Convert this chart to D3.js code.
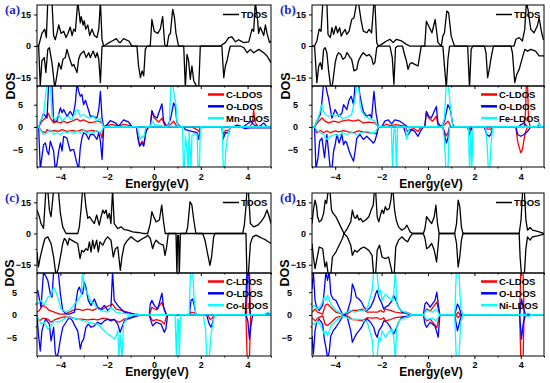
<!DOCTYPE html>
<html><head><meta charset="utf-8">
<script src="https://cdn.jsdelivr.net/npm/d3@7/dist/d3.min.js"></script>
<style>body{margin:0;background:#fff}svg{display:block}</style></head>
<body><svg id="chart" width="550" height="383"></svg>
<script>
// ---------- axes / labels ----------
const energyDomain = [-5, 5];
const energyTicks = [-4, -2, 0, 2, 4];
const energyMinor = [-5, -3, -1, 1, 3, 5];
const tdosDomain = [-19, 19.5];
const tdosTicks = [-15, 0, 15];
const tdosMinor = [-7.5, 7.5];
const ldosDomain = [-9, 9.2];
const ldosTicks = [-5, 0, 5];
const ldosMinor = [-2.5, 2.5];
const panelLabels = ["(a)", "(b)", "(c)", "(d)"];
const metalNames = ["Mn", "Fe", "Co", "Ni"];
const seriesColors = {C: "#ff0000", O: "#0000ff", M: "#00ffff"};

// ---------- panel (a) : Mn ----------
const aTup = [[-5,0],[-4.93,0],[-4.79,6],[-4.67,8],[-4.60,4],[-4.54,21],[-4.43,22],[-4.36,21],[-4.29,5],[-4.22,3],[-4.15,6],[-4.07,10],[-3.97,6],[-3.86,7],[-3.76,4],[-3.68,6],[-3.58,9],[-3.50,5],[-3.43,8],[-3.36,7],[-3.26,21],[-3.19,15],[-3.15,11],[-3.11,14],[-3.03,10],[-2.98,12],[-2.92,8],[-2.83,10],[-2.75,5],[-2.65,8],[-2.55,5],[-2.44,4],[-2.36,8],[-2.29,21],[-2.22,3],[-2.15,0],[-2.01,1],[-1.79,2.4],[-1.61,3.5],[-1.51,2],[-1.44,1.6],[-1.30,3.5],[-1.08,2.4],[-0.94,0],[-0.16,0],[-0.09,12.6],[0.01,7],[0.16,6],[0.27,8],[0.37,14],[0.46,0.5],[0.56,0],[0.63,5],[0.70,6],[0.80,17.4],[0.87,14],[0.94,6],[1.05,0],[2.83,0],[3.05,1.6],[3.19,4],[3.33,4.4],[3.48,2],[3.62,3],[3.83,1.6],[4.05,2],[4.19,8],[4.26,7],[4.33,21],[4.43,12],[4.47,6],[4.54,9],[4.69,5],[4.76,10],[4.83,6],[4.94,1.6],[5,2.5]];
const aTdn = [[-5,0],[-4.93,0],[-4.86,-19],[-4.79,-7],[-4.69,-5.5],[-4.62,-12.6],[-4.54,-1.6],[-4.47,-0.8],[-4.36,-8],[-4.24,-20],[-4.15,-14],[-4.07,-8],[-3.97,-11],[-3.89,-6.3],[-3.79,-5.5],[-3.72,-1.6],[-3.62,-5.5],[-3.50,-9.5],[-3.43,-8.7],[-3.29,-12.6],[-3.22,-6.3],[-3.15,-4],[-3.00,-2.4],[-2.90,-5.5],[-2.79,-3.2],[-2.72,-5.5],[-2.60,-2.4],[-2.50,-5.5],[-2.43,-3.2],[-2.36,-6.3],[-2.29,-17.4],[-2.22,0],[-0.73,0],[-0.66,-9.5],[-0.58,-15],[-0.51,-11.8],[-0.44,-14.2],[-0.37,-1.6],[-0.30,0],[1.27,0],[1.34,-20],[1.41,-4],[1.48,-7],[1.55,-15.8],[1.62,-9.5],[1.70,-16.6],[1.77,-18],[1.84,-20],[1.91,-20],[1.98,0],[2.90,0],[2.98,-15],[3.05,-9.5],[3.12,-7],[3.19,-3.2],[3.26,0],[3.70,0],[3.84,-0.8],[3.98,-3.2],[4.12,-1.6],[4.26,-3.2],[4.48,-1.6],[4.69,-3.2],[4.83,-4.7],[5,-8]];
const aCup = [[-5,0],[-4.93,0],[-4.79,1.3],[-4.64,2],[-4.53,3.1],[-4.43,2],[-4.29,0.9],[-4.15,1.2],[-4.00,0.9],[-3.86,1.3],[-3.72,0.9],[-3.50,1.3],[-3.29,1.8],[-3.15,1.3],[-3.01,1.6],[-2.79,1],[-2.58,1.1],[-2.36,1.3],[-2.22,0.9],[-2.15,0],[-2.01,0.3],[-1.8,0.6],[-1.5,0.2],[-1.3,0.6],[-1.0,0.3],[-0.94,0],[-0.16,0],[-0.09,3.5],[0.01,2],[0.2,1.1],[0.34,2],[0.48,0],[0.70,0.5],[0.84,1.3],[0.98,0],[4.1,0],[4.2,1],[4.26,3.7],[4.33,1],[4.45,0],[5,0]];
const aCdn = [[-5,0],[-4.93,0],[-4.79,-1],[-4.64,-1.3],[-4.57,-0.6],[-4.43,-1],[-4.29,-0.8],[-4.07,-1],[-3.93,-0.6],[-3.72,-1],[-3.50,-0.8],[-3.29,-1],[-3.08,-0.6],[-2.86,-1],[-2.65,-0.8],[-2.44,-1],[-2.29,-1.3],[-2.22,-2.5],[-2.15,0],[-0.75,0],[-0.68,-2.8],[-0.61,-4.3],[-0.51,-3.2],[-0.44,-4],[-0.34,-0.8],[-0.23,0],[1.6,0],[1.84,-0.6],[1.91,-1],[1.98,0],[2.91,0],[2.95,-1.7],[3.05,-0.8],[3.19,-0.8],[3.26,0],[5,0]];
const aOup = [[-5,0],[-4.93,0],[-4.72,3],[-4.57,2],[-4.50,10],[-4.36,10],[-4.29,1.3],[-4.15,1.3],[-4.00,4.3],[-3.93,3.2],[-3.86,3.9],[-3.72,2.4],[-3.58,3.5],[-3.46,2.4],[-3.36,5.4],[-3.29,10],[-3.22,8],[-3.15,6.9],[-3.08,7.3],[-3.01,5],[-2.93,6],[-2.83,4.3],[-2.72,2.4],[-2.58,2.4],[-2.44,2],[-2.36,3.9],[-2.29,8],[-2.22,2],[-2.15,0],[-2.01,0.5],[-1.87,1.4],[-1.65,0.9],[-1.51,0.2],[-1.30,1.6],[-1.08,1.1],[-0.94,0],[-0.16,0],[-0.09,3.7],[0.01,2.4],[0.13,2],[0.34,5.2],[0.41,1.3],[0.56,0],[0.70,1.6],[0.84,5.4],[0.91,4.6],[0.98,0.9],[1.13,0],[3.40,0],[3.55,0.4],[3.8,0],[4.15,1.3],[4.26,0.5],[4.47,0],[4.69,0.9],[4.83,0],[5,0]];
const aOdn = [[-5,0],[-4.93,0],[-4.86,-9.5],[-4.72,-4],[-4.64,-3.6],[-4.57,-5.4],[-4.50,-6.2],[-4.43,-3.2],[-4.29,-5.4],[-4.22,-9.5],[-4.15,-8.4],[-4.07,-5.4],[-4.00,-3.6],[-3.93,-5.4],[-3.86,-2.1],[-3.72,-2.5],[-3.65,-4],[-3.58,-5.4],[-3.50,-5.1],[-3.43,-5.1],[-3.32,-7.7],[-3.22,-9.5],[-3.15,-4.7],[-3.08,-2.5],[-3.01,-1.3],[-2.89,-1.7],[-2.79,-2.8],[-2.72,-1.7],[-2.58,-1.7],[-2.44,-2.8],[-2.36,-1.3],[-2.29,-3.2],[-2.22,-7.3],[-2.15,0],[-0.75,0],[-0.68,-2.5],[-0.61,-4.3],[-0.51,-3.6],[-0.44,-4.3],[-0.34,-1],[-0.23,0],[1.27,0],[1.34,-0.6],[1.62,-1],[1.84,-1.3],[1.91,-2.8],[1.98,0],[2.91,0],[2.95,-2.8],[3.05,-1.3],[3.19,-1.3],[3.26,0],[3.7,0],[3.9,-0.4],[4.1,-0.2],[5,-0.2]];
const aMup = [[-5,0],[-4.93,0],[-4.86,1.3],[-4.72,2.8],[-4.57,10],[-4.43,10],[-4.36,2.4],[-4.22,1.6],[-4.07,2.8],[-3.93,1.3],[-3.79,2],[-3.65,2.4],[-3.50,1.6],[-3.36,3.5],[-3.26,3.9],[-3.15,2.4],[-3.01,2.8],[-2.79,2],[-2.58,2.4],[-2.44,1.3],[-2.29,2],[-2.22,0.9],[-2.15,0],[-0.16,0],[-0.09,1.3],[0.05,0.5],[0.3,0.3],[0.5,0],[0.65,0.5],[0.73,10],[0.80,10],[0.87,7],[0.94,5],[0.98,1],[1.05,0],[5,0]];
const aMdn = [[-5,0],[-4.93,0],[-4.86,-0.6],[-4.72,-1.7],[-4.57,-1.3],[-4.43,-0.6],[-4.29,-1.7],[-4.15,-1.3],[-4.00,-1.7],[-3.86,-1],[-3.72,-1.3],[-3.58,-1],[-3.43,-1.5],[-3.29,-1],[-3.15,-1.3],[-3.01,-0.8],[-2.86,-1.3],[-2.72,-1],[-2.58,-1.3],[-2.44,-0.8],[-2.29,-1.3],[-2.15,0],[-0.72,0],[-0.65,-1.7],[-0.58,-2.8],[-0.51,-2],[-0.44,-2.4],[-0.35,0],[1.22,0],[1.26,-9.5],[1.30,-9.5],[1.34,-2],[1.41,-5.4],[1.46,-9.5],[1.50,-1],[1.58,-9.5],[1.62,-2],[1.70,-1.5],[1.84,-1.6],[1.88,-9.5],[1.94,-9.5],[1.98,0],[2.92,0],[2.96,-9.5],[3.02,-9.5],[3.07,-5.4],[3.12,-3.2],[3.19,-1],[3.26,0],[5,0]];

// ---------- panel (b) : Fe ----------
const bTup = [[-5,0],[-4.89,0],[-4.79,2.4],[-4.69,8],[-4.61,7],[-4.53,21],[-4.43,21],[-4.36,21],[-4.31,5.5],[-4.21,4],[-4.14,8.7],[-4.07,5.5],[-3.97,9.5],[-3.90,6.3],[-3.81,8.7],[-3.74,4.7],[-3.67,6.3],[-3.57,7.9],[-3.50,5.5],[-3.40,7.1],[-3.29,12.6],[-3.19,13.4],[-3.07,21],[-3.00,21],[-2.89,12.6],[-2.79,7.1],[-2.64,6.3],[-2.54,7.9],[-2.43,6.3],[-2.33,21],[-2.29,21],[-2.21,1.6],[-2.14,0],[-2.00,0.8],[-1.79,2.4],[-1.64,3.2],[-1.50,1.6],[-1.36,3.2],[-1.14,2.4],[-0.93,0.8],[-0.79,0],[-0.14,0],[-0.07,11.8],[0.03,9.5],[0.17,6.3],[0.31,12.6],[0.43,1.6],[0.57,0],[0.64,4.7],[0.71,6.3],[0.81,16.6],[0.89,15.8],[1.00,4.7],[1.14,0],[3.71,0],[3.79,3.2],[3.93,4],[4.07,2.4],[4.17,7.9],[4.24,21],[4.31,17.4],[4.43,7.9],[4.57,6.3],[4.71,9.5],[4.79,13.4],[4.90,6.3],[4.97,3.2],[5,3]];
const bTdn = [[-5,0],[-4.89,0],[-4.79,-17.4],[-4.71,-9.5],[-4.64,-7.9],[-4.57,-11.1],[-4.50,-1.6],[-4.43,-0.8],[-4.36,-3.2],[-4.29,-11.1],[-4.21,-18.2],[-4.14,-20],[-4.07,-14.2],[-4.00,-7.9],[-3.93,-4.7],[-3.86,-3.2],[-3.76,-4],[-3.67,-6.3],[-3.57,-5.5],[-3.50,-3.2],[-3.43,-4],[-3.36,-5.5],[-3.29,-6.3],[-3.19,-11.8],[-3.07,-11.1],[-3.00,-7.1],[-2.89,-4.7],[-2.79,-3.2],[-2.64,-4.7],[-2.54,-4],[-2.43,-5.5],[-2.36,-8.7],[-2.29,-7.9],[-2.21,-0.8],[-2.14,0],[-1.64,0],[-1.54,-5.5],[-1.47,-18.2],[-1.40,-0.8],[-1.31,0],[-1.10,0],[-1.03,-3.2],[-0.93,-7.1],[-0.86,-11.1],[-0.79,-8.7],[-0.71,-7.9],[-0.57,-8.7],[-0.43,-9.5],[-0.36,-4.7],[-0.29,0],[0.64,0],[0.71,-9.5],[0.79,-20],[0.86,-6.3],[0.93,0],[1.71,0],[1.79,-20],[1.86,-1.6],[1.93,0],[2.43,0],[2.50,-3.2],[2.57,-15],[2.64,-11.1],[2.71,-6.3],[2.79,-1.6],[2.83,0],[3.57,0],[3.64,-3.2],[3.74,-17.4],[3.83,-13.4],[3.93,-11.1],[4.07,-5.5],[4.17,-1.6],[4.29,-2.4],[4.43,-1.6],[4.64,-2.4],[4.79,-4.7],[4.97,-4.7],[5,-4.7]];
const bCup = [[-5,0],[-4.89,0],[-4.71,1.3],[-4.57,2],[-4.43,1.3],[-4.29,0.9],[-4.07,1.3],[-3.86,1],[-3.71,1.3],[-3.43,1.6],[-3.21,1.3],[-3.00,1.6],[-2.79,0.9],[-2.57,1.1],[-2.29,0.9],[-2.14,0],[-2.0,0],[-1.8,0.6],[-1.6,0.3],[-1.4,0.5],[-1.0,0.2],[-0.86,0],[-0.14,0],[-0.07,3.1],[0.03,2],[0.2,1.3],[0.36,2.4],[0.45,0],[0.71,0.5],[0.86,1.3],[1.0,0],[4.15,0],[4.2,3],[4.24,10],[4.29,10],[4.33,2],[4.4,0],[5,0]];
const bCdn = [[-5,0],[-4.89,0],[-4.79,-1.3],[-4.64,-0.8],[-4.50,-1.3],[-4.36,-0.9],[-4.21,-1.3],[-4.0,-0.9],[-3.86,-1.1],[-3.64,-0.8],[-3.43,-1.1],[-3.21,-1.3],[-3.0,-0.9],[-2.79,-1.1],[-2.57,-1.3],[-2.36,-1.3],[-2.21,-1.6],[-2.14,0],[-0.95,0],[-0.9,-1],[-0.8,-0.6],[-0.6,-0.4],[-0.43,-1],[-0.3,0],[0.64,0],[0.71,-1],[0.79,-2],[0.86,-1.3],[0.93,0],[1.75,0],[1.8,-0.6],[1.9,0],[2.5,0],[2.55,-0.5],[2.7,-0.5],[2.8,0],[3.79,0],[3.86,-3.2],[3.93,-4.6],[4.0,-5.8],[4.07,-5.1],[4.14,-2.8],[4.21,-1],[4.29,0],[5,0]];
const bOup = [[-5,0],[-4.89,0],[-4.79,1.3],[-4.64,2.8],[-4.57,5.7],[-4.50,10],[-4.43,10],[-4.36,8],[-4.29,6.5],[-4.14,2],[-4.00,3.9],[-3.86,2.4],[-3.71,3.1],[-3.64,5],[-3.50,3.9],[-3.40,6.1],[-3.31,6.9],[-3.21,5],[-3.14,10],[-3.00,10],[-2.93,6.9],[-2.79,3.5],[-2.64,2.4],[-2.50,2.8],[-2.43,2],[-2.33,8],[-2.24,3.1],[-2.14,0],[-2.0,0],[-1.86,1.3],[-1.71,1.6],[-1.57,0.7],[-1.43,1.6],[-1.21,1.3],[-1.00,0.5],[-0.86,0],[-0.14,0],[-0.07,3.5],[0.03,2.4],[0.14,2],[0.36,4.6],[0.43,0.9],[0.57,0],[0.71,1.3],[0.86,5],[0.96,3.9],[1.07,0.5],[1.14,0],[3.9,0],[4.0,0.5],[4.14,0.9],[4.29,0],[4.7,0],[4.79,0.9],[4.86,0],[5,0]];
const bOdn = [[-5,0],[-4.89,0],[-4.83,-9.5],[-4.74,-6.9],[-4.67,-3.2],[-4.57,-2.5],[-4.50,-5.4],[-4.46,-6.9],[-4.36,-1.7],[-4.29,-5.4],[-4.21,-9.5],[-4.14,-9.5],[-4.07,-5.4],[-4.00,-4],[-3.93,-1.7],[-3.83,-3.6],[-3.71,-1.7],[-3.64,-4],[-3.57,-3.2],[-3.50,-3.6],[-3.40,-5.4],[-3.31,-6.6],[-3.21,-7.7],[-3.14,-5.4],[-3.07,-2.5],[-2.93,-1.7],[-2.79,-2.8],[-2.64,-2.1],[-2.50,-2.8],[-2.36,-3.6],[-2.29,-3.2],[-2.21,-1.7],[-2.14,0],[-1.05,0],[-0.93,-2.1],[-0.86,-1.7],[-0.71,-0.6],[-0.57,-1],[-0.43,-2.1],[-0.33,-1],[-0.21,0],[0.64,0],[0.71,-1.7],[0.79,-3.6],[0.86,-2.5],[0.93,0],[1.71,0],[1.79,-1.7],[1.86,-0.6],[1.93,0],[2.43,0],[2.53,-1.7],[2.64,-2.1],[2.71,-1.7],[2.79,0],[3.79,0],[3.86,-1.7],[4.0,-2.1],[4.14,-1.7],[4.29,-1],[4.43,0],[5,0]];
const bMup = [[-5,0],[-4.89,0],[-4.71,2.4],[-4.57,5],[-4.50,3.5],[-4.43,2.8],[-4.29,2.4],[-4.14,2.8],[-4.00,2.4],[-3.86,2.8],[-3.71,2],[-3.57,2],[-3.43,2.4],[-3.29,2.8],[-3.14,6.5],[-3.07,10],[-3.00,10],[-2.93,5],[-2.86,3.5],[-2.71,2.4],[-2.57,2],[-2.29,1.3],[-2.14,0],[0.6,0],[0.71,2],[0.79,10],[0.86,10],[0.93,6.5],[1.0,2.8],[1.07,0],[4.7,0],[4.79,0.9],[4.86,0],[5,0]];
const bMdn = [[-5,0],[-4.89,0],[-4.79,-0.8],[-4.64,-1.3],[-4.50,-1.7],[-4.36,-2.8],[-4.21,-2.1],[-4.0,-1.7],[-3.86,-2.1],[-3.71,-1.3],[-3.5,-1.7],[-3.29,-1.3],[-3.07,-1.7],[-2.86,-1.3],[-2.64,-1],[-2.43,-1.3],[-2.29,-1.3],[-2.14,0],[-1.58,0],[-1.53,-9.5],[-1.47,-0.5],[-1.41,-0.5],[-1.36,-9.5],[-1.31,0],[-0.97,0],[-0.92,-2.8],[-0.86,-1.3],[-0.8,0],[0.64,0],[0.71,-3],[0.77,-9.5],[0.86,-9.5],[0.92,0],[1.74,0],[1.79,-9.5],[1.85,-1],[1.89,-9.5],[1.94,0],[2.48,0],[2.55,-4],[2.6,-9.5],[2.66,-9.5],[2.72,-3.6],[2.79,0],[5,0]];

// ---------- panel (c) : Co ----------
const cTup = [[-5,11.3],[-4.90,8.1],[-4.83,4.8],[-4.72,2.4],[-4.62,21],[-4.54,21],[-4.47,11.3],[-4.40,8.1],[-4.29,21],[-4.19,21],[-4.09,21],[-4.00,9.7],[-3.90,3.2],[-3.76,0],[-3.26,0],[-3.19,3.2],[-3.12,11.3],[-3.05,21],[-2.98,21],[-2.91,12.9],[-2.83,7.3],[-2.76,8.1],[-2.66,6.5],[-2.55,4.8],[-2.45,8.9],[-2.34,4],[-2.26,8.1],[-2.19,11.3],[-2.12,9.7],[-2.05,11.3],[-1.98,7.3],[-1.91,9.7],[-1.84,4.8],[-1.77,21],[-1.70,4.8],[-1.55,2.4],[-1.41,3.2],[-1.27,1.9],[-1.13,1.6],[-0.91,0.8],[-0.70,0.5],[-0.41,0],[-0.27,0],[-0.16,4.8],[-0.09,10.5],[-0.01,8.1],[0.09,5.6],[0.23,6.5],[0.33,13.7],[0.40,6.5],[0.48,0],[1.37,0],[1.44,3.2],[1.54,15.3],[1.62,13.7],[1.70,6.5],[1.79,0],[3.79,0],[3.86,4],[3.93,12.9],[3.97,21],[4.03,21],[4.12,4.8],[4.26,3.2],[4.43,4],[4.57,5.6],[4.72,8.1],[4.83,11.3],[4.90,8.9],[5,4.8]];
const cTdn = [[-5,-8.9],[-4.94,-16.1],[-4.86,-11.3],[-4.76,-6.5],[-4.66,-2.4],[-4.54,-1.6],[-4.40,-4.8],[-4.29,-11.3],[-4.19,-20],[-4.09,-16.9],[-4.00,-11.3],[-3.90,-4.8],[-3.83,-2.4],[-3.76,-3.2],[-3.69,-5.6],[-3.62,-2.4],[-3.52,-3.2],[-3.40,-4],[-3.26,-4.8],[-3.16,-12.1],[-3.09,-8.1],[-3.01,-8.9],[-2.91,-7.3],[-2.83,-8.1],[-2.76,-4],[-2.69,-8.9],[-2.62,-3.2],[-2.55,-7.3],[-2.45,-3.2],[-2.38,-8.9],[-2.31,-4],[-2.19,-5.6],[-2.09,-3.2],[-1.98,-1.6],[-1.84,-3.2],[-1.74,-11.3],[-1.65,-7.3],[-1.55,-6.5],[-1.44,-17.7],[-1.37,-11.3],[-1.27,-5.6],[-1.13,-3.2],[-0.98,-1.6],[-0.84,-2.9],[-0.70,-4],[-0.48,-2.4],[-0.34,-1.6],[-0.27,-0.8],[-0.16,-2.4],[-0.06,-7.3],[0.01,-4.8],[0.09,-3.2],[0.23,-4.8],[0.40,-5.6],[0.47,-10.5],[0.54,-6.5],[0.61,0],[0.94,0],[0.98,-20],[1.01,-1],[1.05,-1],[1.08,-20],[1.13,0],[2.08,0],[2.18,-3.2],[2.29,-9.7],[2.39,-15.3],[2.46,-11.3],[2.55,-1.6],[2.61,0],[3.93,0],[3.97,-20],[4.03,-20],[4.12,-4.8],[4.22,-1.6],[4.36,-0.8],[4.50,-1.6],[4.64,-2.4],[4.79,-3.2],[5,-4.8]];
const cCup = [[-5,0.6],[-4.90,1],[-4.76,2.1],[-4.62,1.7],[-4.47,1],[-4.26,0.6],[-4.05,0.2],[-3.83,0.2],[-3.62,0.6],[-3.48,1],[-3.26,1.3],[-3.05,1],[-2.83,1.3],[-2.62,1],[-2.41,1.5],[-2.26,1.1],[-2.05,1.7],[-1.77,2.4],[-1.62,1.3],[-1.41,1],[-1.13,0.6],[-0.84,0.2],[-0.6,0],[-0.2,0],[-0.09,1.7],[0.1,1.1],[0.34,2.8],[0.45,1],[0.55,0],[1.5,0],[1.6,0.6],[1.75,0.4],[1.85,0],[3.95,0],[4.0,9.5],[4.08,9.5],[4.12,0],[5,0]];
const cCdn = [[-5,-0.5],[-4.90,-1.3],[-4.76,-0.7],[-4.54,-0.9],[-4.40,-1.6],[-4.26,-1.1],[-4.05,-0.7],[-3.83,-0.4],[-3.55,-0.5],[-3.33,-0.9],[-3.12,-0.9],[-2.83,-1.1],[-2.62,-0.9],[-2.41,-1.1],[-2.19,-0.7],[-1.98,-0.9],[-1.70,-1.1],[-1.48,-1.6],[-1.27,-0.9],[-0.98,-0.5],[-0.70,0],[-0.2,0],[-0.06,-1.3],[0.1,-1],[0.30,-1.3],[0.44,-2],[0.55,0],[2.3,0],[2.4,-1],[2.5,-0.6],[2.58,0],[3.93,0],[3.98,-9.5],[4.08,-9.5],[4.13,0],[5,0]];
const cOup = [[-5,5],[-4.97,5.4],[-4.83,1.7],[-4.72,9.5],[-4.54,7.6],[-4.43,4.6],[-4.36,3.9],[-4.29,9.5],[-4.09,9.5],[-4.00,4.6],[-3.90,1],[-3.76,0.2],[-3.62,0.2],[-3.40,0.6],[-3.26,5.4],[-3.19,6.1],[-3.12,5],[-3.05,4.6],[-2.98,7.2],[-2.91,6.1],[-2.81,3.2],[-2.69,2.1],[-2.55,3.5],[-2.41,1.7],[-2.26,1.3],[-2.12,2.1],[-1.98,1],[-1.84,1.7],[-1.77,9.5],[-1.70,3.2],[-1.55,2.1],[-1.41,1.3],[-1.27,0.6],[-1.05,0.4],[-0.84,0.2],[-0.56,0],[-0.2,0],[-0.16,2.4],[-0.09,3.2],[0.01,2.1],[0.16,1.3],[0.34,4.8],[0.41,1.7],[0.51,0.2],[0.58,0],[1.51,0],[1.58,3.2],[1.65,3.5],[1.72,2.1],[1.79,0.2],[1.85,0],[3.9,0],[3.97,9.5],[4.05,9.5],[4.1,0],[4.7,0],[4.86,0.4],[5,0]];
const cOdn = [[-5,0],[-4.94,-4.2],[-4.86,-7.9],[-4.79,-3.5],[-4.69,-1.6],[-4.62,-0.9],[-4.47,-2],[-4.40,-5.7],[-4.29,-2.7],[-4.22,-8.2],[-4.15,-9.5],[-4.09,-8.2],[-4.00,-5.3],[-3.90,-2.7],[-3.76,-1.6],[-3.62,-0.5],[-3.48,-1.3],[-3.38,-2.4],[-3.26,-3.5],[-3.15,-7.5],[-3.09,-6],[-3.01,-5.3],[-2.91,-2.7],[-2.81,-2],[-2.69,-2.7],[-2.55,-2.4],[-2.41,-1.6],[-2.26,-2],[-2.12,-1.3],[-1.98,-0.9],[-1.84,-1.3],[-1.70,-0.9],[-1.55,-2],[-1.45,-3.8],[-1.37,-2.7],[-1.27,-1.3],[-1.13,-0.9],[-0.84,-0.4],[-0.56,0],[-0.2,0],[-0.13,-1.3],[-0.06,-2.4],[0.09,-1.6],[0.30,-2],[0.44,-3.8],[0.51,-3],[0.58,0],[2.25,0],[2.36,-2],[2.44,-2.7],[2.51,-1.6],[2.58,0],[3.93,0],[4.01,-1.3],[4.08,-5.3],[4.15,-2],[4.22,0],[5,0]];
const cMup = [[-5,2.4],[-4.83,3.2],[-4.69,2.1],[-4.54,3.9],[-4.40,4.3],[-4.29,6.1],[-4.19,5],[-4.12,3.9],[-3.97,1.3],[-3.76,0.6],[-3.55,1.3],[-3.40,2.4],[-3.26,3.2],[-3.12,4.3],[-3.05,9.5],[-2.98,6.1],[-2.91,5.4],[-2.81,4.3],[-2.69,2.8],[-2.55,2.4],[-2.41,1.3],[-2.26,1],[-1.98,0.6],[-1.84,1.7],[-1.77,1.3],[-1.62,0.6],[-1.41,0.4],[-0.84,0],[1.5,0],[1.56,9.5],[1.65,9.5],[1.72,3.2],[1.79,0],[4.7,0],[4.86,0.6],[5,0.2]];
const cMdn = [[-5,-0.5],[-4.97,-0.5],[-4.83,-2],[-4.69,-1.6],[-4.54,-3.1],[-4.40,-2.4],[-4.26,-1.3],[-4.12,-1.6],[-3.97,-1.3],[-3.69,-0.4],[-3.26,-0.9],[-2.83,-1.6],[-2.41,-2],[-2.12,-3.5],[-1.98,-4.2],[-1.84,-4.6],[-1.70,-5.3],[-1.62,-4.6],[-1.55,-3.5],[-1.50,-9.5],[-1.45,-4.2],[-1.37,-9.5],[-1.30,-2],[-1.13,-0.5],[-0.84,0],[0.9,0],[0.96,-9.5],[1.0,-1],[1.05,-1],[1.08,-9.5],[1.13,0],[2.1,0],[2.2,-3],[2.26,-9.5],[2.36,-9.5],[2.44,-4.2],[2.58,0],[5,0]];

// ---------- panel (d) : Ni ----------
const dTup = [[-5,4.8],[-4.94,11.3],[-4.87,16.1],[-4.80,12.9],[-4.76,8.1],[-4.69,5.6],[-4.59,6.5],[-4.50,9.7],[-4.43,16],[-4.37,14.5],[-4.30,21],[-4.23,21],[-4.16,11.3],[-4.09,9.7],[-3.97,8.1],[-3.86,5.6],[-3.76,3.2],[-3.62,0],[-3.48,2.4],[-3.33,5.6],[-3.26,11.3],[-3.19,8.1],[-3.12,7.3],[-3.05,8.9],[-2.98,6.5],[-2.91,7.3],[-2.81,5.6],[-2.69,6.5],[-2.55,8.1],[-2.45,11.3],[-2.36,13.7],[-2.31,21],[-2.26,21],[-2.19,8.1],[-2.12,5.6],[-2.05,8.9],[-1.98,11.3],[-1.91,9.7],[-1.84,12.9],[-1.77,11.3],[-1.67,12.1],[-1.60,16.1],[-1.55,21],[-1.51,21],[-1.44,11.3],[-1.37,6.5],[-1.27,3.2],[-1.13,1.6],[-1.01,2.4],[-0.91,4],[-0.84,2.4],[-0.77,0.8],[-0.67,0],[-0.20,0],[-0.13,2.4],[-0.06,8.1],[0.04,6.5],[0.16,4.8],[0.27,8.1],[0.34,13.7],[0.41,4.8],[0.48,0],[1.15,0],[1.23,4.8],[1.30,16.1],[1.37,12.9],[1.44,3.2],[1.51,0],[3.93,0],[4.01,6.5],[4.08,21],[4.15,21],[4.22,6.5],[4.29,1.6],[4.40,2.9],[4.50,1.6],[4.64,1.3],[4.79,0.8],[5,0]];
const dTdn = [[-5,-4.8],[-4.94,-11.3],[-4.87,-16.9],[-4.80,-12.9],[-4.69,-6.5],[-4.54,-7.3],[-4.44,-16.1],[-4.37,-13.7],[-4.30,-20],[-4.19,-20],[-4.12,-11.3],[-3.97,-8.9],[-3.83,-5.6],[-3.69,-2.4],[-3.62,0],[-3.48,-1.6],[-3.33,-5.6],[-3.26,-10.5],[-3.16,-8.1],[-3.05,-8.9],[-2.91,-7.3],[-2.76,-6.5],[-2.55,-8.1],[-2.41,-10.5],[-2.34,-20],[-2.26,-20],[-2.19,-8.1],[-2.09,-5.6],[-1.98,-11.3],[-1.84,-12.1],[-1.70,-11.3],[-1.60,-16.1],[-1.53,-20],[-1.46,-20],[-1.39,-6.5],[-1.27,-3.2],[-1.13,-1.6],[-0.98,-3.2],[-0.88,-4],[-0.77,-1.6],[-0.67,0],[-0.20,0],[-0.13,-2.4],[-0.06,-7.3],[0.04,-6.5],[0.16,-4.8],[0.27,-8.1],[0.37,-13.7],[0.44,-5.6],[0.48,0],[1.15,0],[1.23,-4.8],[1.30,-16.1],[1.37,-11.3],[1.44,-3.2],[1.51,0],[3.93,0],[3.97,-11.3],[4.03,-20],[4.15,-20],[4.22,-7.3],[4.29,-1.6],[4.40,-3.2],[4.50,-1.6],[4.72,-1.1],[5,-0.3]];
const dCup = [[-5,0.6],[-4.86,1.3],[-4.76,0.6],[-4.54,0.2],[-4.43,2.1],[-4.33,2.4],[-4.19,1.7],[-3.97,0.6],[-3.69,0.2],[-3.48,0.2],[-3.26,1],[-3.05,1],[-2.83,1.3],[-2.62,0.6],[-2.40,0.6],[-2.19,0.6],[-2.05,1],[-1.91,0.6],[-1.84,1.3],[-1.62,1],[-1.41,0.6],[-1.13,0.4],[-0.91,0.6],[-0.67,0],[-0.2,0],[-0.06,1.3],[0.1,0.9],[0.38,2.8],[0.46,1],[0.51,0],[1.2,0],[1.3,0.6],[1.4,0],[3.95,0],[4.0,9.5],[4.1,9.5],[4.14,0],[5,0]];
const dCdn = [[-5,-0.6],[-4.86,-1.3],[-4.76,-0.7],[-4.54,-0.2],[-4.43,-2.1],[-4.33,-2.3],[-4.19,-1.7],[-3.97,-0.6],[-3.69,-0.2],[-3.48,-0.2],[-3.26,-1],[-3.05,-1.1],[-2.83,-1.3],[-2.62,-0.6],[-2.40,-0.7],[-2.19,-0.6],[-2.05,-1],[-1.91,-0.6],[-1.84,-1.3],[-1.62,-1],[-1.41,-0.6],[-1.13,-0.4],[-0.91,-0.6],[-0.67,0],[-0.2,0],[-0.06,-1.3],[0.1,-0.9],[0.38,-2.8],[0.46,-1],[0.51,0],[1.2,0],[1.3,-0.6],[1.4,0],[3.95,0],[4.0,-9.5],[4.1,-9.5],[4.14,0],[5,0]];
const dOup = [[-5,5.7],[-4.94,9.5],[-4.87,3.2],[-4.80,1.7],[-4.69,1],[-4.54,2.1],[-4.47,5.4],[-4.40,9.5],[-4.33,7.6],[-4.26,9.5],[-4.19,4.6],[-4.09,3.5],[-3.97,3.2],[-3.83,1.7],[-3.69,0.2],[-3.62,0],[-3.48,0.6],[-3.33,3.2],[-3.26,6.8],[-3.16,5.4],[-3.09,3.9],[-2.98,3.5],[-2.86,2.8],[-2.76,1.7],[-2.62,1],[-2.48,1.7],[-2.34,3.2],[-2.26,4.6],[-2.19,5.4],[-2.12,3.9],[-1.98,2.4],[-1.91,1.3],[-1.84,1.7],[-1.70,2.1],[-1.55,3.2],[-1.48,4.3],[-1.38,3.2],[-1.27,1.7],[-1.13,0.6],[-0.98,0.4],[-0.84,0.2],[-0.67,0],[-0.2,0],[-0.13,2.4],[-0.06,2.8],[0.09,1.7],[0.30,3.2],[0.38,5],[0.44,2.4],[0.51,0],[1.15,0],[1.27,2.4],[1.34,1.7],[1.44,0],[3.95,0],[4.03,3.5],[4.1,2],[4.2,0],[5,0]];
const dOdn = [[-5,-4.6],[-4.94,-8.6],[-4.87,-3.5],[-4.80,-1.6],[-4.69,-0.9],[-4.54,-2],[-4.47,-5.3],[-4.40,-7.1],[-4.33,-9.5],[-4.26,-8.2],[-4.19,-4.6],[-4.09,-3.5],[-3.97,-2.7],[-3.83,-1.6],[-3.69,-0.4],[-3.62,0],[-3.48,-0.5],[-3.33,-3.5],[-3.26,-6],[-3.16,-4.9],[-3.09,-4.2],[-2.98,-3.5],[-2.86,-2.7],[-2.76,-1.6],[-2.62,-0.9],[-2.48,-1.6],[-2.34,-2.7],[-2.26,-4.2],[-2.19,-4.9],[-2.12,-3.5],[-1.98,-2.4],[-1.91,-1.3],[-1.77,-1.6],[-1.62,-2.7],[-1.48,-4.2],[-1.38,-3.1],[-1.27,-1.6],[-1.13,-0.5],[-0.84,-0.2],[-0.67,0],[-0.2,0],[-0.13,-2],[-0.06,-2.7],[0.09,-1.6],[0.30,-2.4],[0.44,-4.9],[0.51,0],[1.15,0],[1.27,-3.5],[1.34,-2],[1.44,0],[3.95,0],[4.03,-5.3],[4.1,-2],[4.2,0],[5,0]];
const dMup = [[-5,1.7],[-4.90,2.1],[-4.76,1.3],[-4.62,2.1],[-4.47,3.9],[-4.40,3.2],[-4.33,4.3],[-4.19,2.4],[-3.97,1],[-3.69,0.2],[-3.48,0.6],[-3.33,1],[-3.19,0.6],[-2.83,1],[-2.62,1.3],[-2.41,5.4],[-2.34,9.5],[-2.20,9.5],[-2.12,4.6],[-2.05,5.4],[-1.98,3.2],[-1.84,4.6],[-1.70,3.9],[-1.55,3.2],[-1.48,4.6],[-1.41,9.5],[-1.34,2.4],[-1.20,1],[-0.98,0.6],[-0.67,0],[-0.2,0],[-0.06,1],[0.2,0.6],[0.34,1.3],[0.5,0],[1.15,0],[1.22,9.5],[1.33,9.5],[1.41,1.7],[1.51,0],[4.2,0],[4.29,0.4],[4.5,0],[5,0]];
const dMdn = [[-5,-1.7],[-4.90,-2.1],[-4.76,-1.3],[-4.62,-2.4],[-4.47,-4.2],[-4.40,-3.5],[-4.33,-4.6],[-4.19,-2.4],[-3.97,-1.3],[-3.69,-0.2],[-3.48,-0.6],[-3.33,-1],[-3.19,-0.9],[-2.83,-1],[-2.62,-1.6],[-2.41,-5.3],[-2.34,-9.5],[-2.20,-9.5],[-2.12,-4.9],[-2.05,-5.6],[-1.98,-3.5],[-1.84,-4.9],[-1.70,-3.8],[-1.55,-3.1],[-1.48,-4.9],[-1.41,-9.5],[-1.34,-2.4],[-1.20,-1],[-0.98,-0.6],[-0.67,0],[-0.2,0],[-0.06,-1],[0.2,-0.7],[0.34,-1.3],[0.5,0],[1.15,0],[1.22,-9.5],[1.33,-9.5],[1.41,-1.7],[1.51,0],[4.2,0],[4.29,-0.4],[4.5,0],[5,0]];

const panelData = [
  {tup:aTup, tdn:aTdn, C:[aCup,aCdn], O:[aOup,aOdn], M:[aMup,aMdn]},
  {tup:bTup, tdn:bTdn, C:[bCup,bCdn], O:[bOup,bOdn], M:[bMup,bMdn]},
  {tup:cTup, tdn:cTdn, C:[cCup,cCdn], O:[cOup,cOdn], M:[cMup,cMdn]},
  {tup:dTup, tdn:dTdn, C:[dCup,dCdn], O:[dOup,dOdn], M:[dMup,dMdn]}
];

// ---------- layout ----------
const layout = [
  {x0:37,  x1:271, y0:5,   ym:86,  y1:167, ldosPad:11, xPad:3.5, titleDy:21, dosX:10},
  {x0:312, x1:544, y0:5,   ym:86,  y1:167, ldosPad:11, xPad:3.5, titleDy:21, dosX:285},
  {x0:37,  x1:271, y0:193, ym:273, y1:356, ldosPad:17, xPad:2.8, titleDy:20, dosX:9},
  {x0:312, x1:544, y0:193, ym:273, y1:356, ldosPad:17, xPad:2.8, titleDy:20, dosX:284}
];

const svg = d3.select("#chart");
const defs = svg.append("defs");
const FONT = "'Liberation Sans', Arial, Helvetica, sans-serif";

function styleAxis(g){
  g.select(".domain").remove();
  g.selectAll("line").attr("stroke","#000").attr("stroke-width",1);
  g.selectAll("text").attr("font-family",FONT).attr("font-weight","bold").attr("font-size","9px").attr("fill","#000");
}

layout.forEach((L, i) => {
  const D = panelData[i];
  const g = svg.append("g");
  const x = d3.scaleLinear().domain(energyDomain).range([L.x0, L.x1]);
  const yT = d3.scaleLinear().domain(tdosDomain).range([L.ym, L.y0]);
  const yL = d3.scaleLinear().domain(ldosDomain).range([L.y1, L.ym]);

  const clipT = "clipT" + i, clipL = "clipL" + i;
  defs.append("clipPath").attr("id", clipT).append("rect")
    .attr("x", L.x0).attr("y", L.y0).attr("width", L.x1 - L.x0).attr("height", L.ym - L.y0);
  defs.append("clipPath").attr("id", clipL).append("rect")
    .attr("x", L.x0).attr("y", L.ym).attr("width", L.x1 - L.x0).attr("height", L.y1 - L.ym);

  const lineT = d3.line().x(d => x(d[0])).y(d => yT(d[1]));
  const lineL = d3.line().x(d => x(d[0])).y(d => yL(d[1]));

  // TDOS
  const gT = g.append("g").attr("clip-path", `url(#${clipT})`);
  [D.tup, D.tdn].forEach(s => gT.append("path").attr("d", lineT(s))
    .attr("fill","none").attr("stroke","#000").attr("stroke-width",1.3).attr("stroke-linejoin","round"));

  // LDOS (C, then O, then metal on top)
  const gL = g.append("g").attr("clip-path", `url(#${clipL})`);
  ["C","O","M"].forEach(k => {
    D[k].forEach(s => gL.append("path").attr("d", lineL(s))
      .attr("fill","none").attr("stroke",seriesColors[k]).attr("stroke-width",1.3).attr("stroke-linejoin","round"));
  });

  // frames
  [[L.y0, L.ym], [L.ym, L.y1]].forEach(([a,b]) => g.append("rect")
    .attr("x", L.x0).attr("y", a).attr("width", L.x1 - L.x0).attr("height", b - a)
    .attr("fill","none").attr("stroke","#000").attr("stroke-width",1));

  // x axes (outward ticks on bottom of each layer)
  [[L.ym, false],[L.y1, true]].forEach(([yy, labels]) => {
    styleAxis(g.append("g").attr("transform",`translate(0,${yy})`)
      .call(d3.axisBottom(x).tickValues(energyTicks).tickSizeInner(3).tickSizeOuter(0).tickPadding(L.xPad)
        .tickFormat(labels ? d3.format("d") : "")));
    styleAxis(g.append("g").attr("transform",`translate(0,${yy})`)
      .call(d3.axisBottom(x).tickValues(energyMinor).tickSizeInner(1.5).tickSizeOuter(0).tickFormat("")));
  });

  // y axes (outward ticks on the left)
  styleAxis(g.append("g").attr("transform",`translate(${L.x0},0)`)
    .call(d3.axisLeft(yT).tickValues(tdosTicks).tickSizeInner(3).tickSizeOuter(0).tickPadding(3).tickFormat(d3.format("d"))));
  styleAxis(g.append("g").attr("transform",`translate(${L.x0},0)`)
    .call(d3.axisLeft(yT).tickValues(tdosMinor).tickSizeInner(1.5).tickSizeOuter(0).tickFormat("")));
  styleAxis(g.append("g").attr("transform",`translate(${L.x0},0)`)
    .call(d3.axisLeft(yL).tickValues(ldosTicks).tickSizeInner(3).tickSizeOuter(0).tickPadding(L.ldosPad).tickFormat(d3.format("d"))));
  styleAxis(g.append("g").attr("transform",`translate(${L.x0},0)`)
    .call(d3.axisLeft(yL).tickValues(ldosMinor).tickSizeInner(1.5).tickSizeOuter(0).tickFormat("")));

  // axis titles
  g.append("text").attr("x", (L.x0 + L.x1)/2 + 3).attr("y", L.y1 + L.titleDy)
    .attr("text-anchor","middle").attr("font-family",FONT).attr("font-weight","bold")
    .attr("font-size","12px").text("Energy(eV)");
  g.append("text").attr("transform",`translate(${L.dosX + 4.5},${L.ym})rotate(-90)`)
    .attr("text-anchor","middle").attr("font-family",FONT).attr("font-weight","bold")
    .attr("font-size","12.5px").text("DOS");

  // panel label
  g.append("text").attr("x", L.x0 - 32).attr("y", L.y0 + 9)
    .attr("font-family","'Liberation Serif','Times New Roman',serif").attr("font-weight","bold")
    .attr("font-size","13px").attr("fill","#2323d6").text(panelLabels[i]);

  // TDOS legend
  const lx = L.x1 - 48;
  g.append("line").attr("x1", lx).attr("x2", lx + 16).attr("y1", L.y0 + 9.5).attr("y2", L.y0 + 9.5)
    .attr("stroke","#000").attr("stroke-width",1.5);
  g.append("text").attr("x", lx + 18).attr("y", L.y0 + 13).attr("font-family",FONT)
    .attr("font-weight","bold").attr("font-size","9.5px").text("TDOS");

  // LDOS legend
  const items = [["C","C-LDOS"],["O","O-LDOS"],["M", metalNames[i] + "-LDOS"]];
  const llx = L.x1 - 63;
  items.forEach(([k, label], j) => {
    const yy = L.ym + 8.5 + j * 11.8;
    g.append("line").attr("x1", llx).attr("x2", llx + 16).attr("y1", yy).attr("y2", yy)
      .attr("stroke", seriesColors[k]).attr("stroke-width", 2.5);
    g.append("text").attr("x", llx + 18).attr("y", yy + 3.5).attr("font-family",FONT)
      .attr("font-weight","bold").attr("font-size","9.5px").text(label);
  });
});
</script></body></html>
